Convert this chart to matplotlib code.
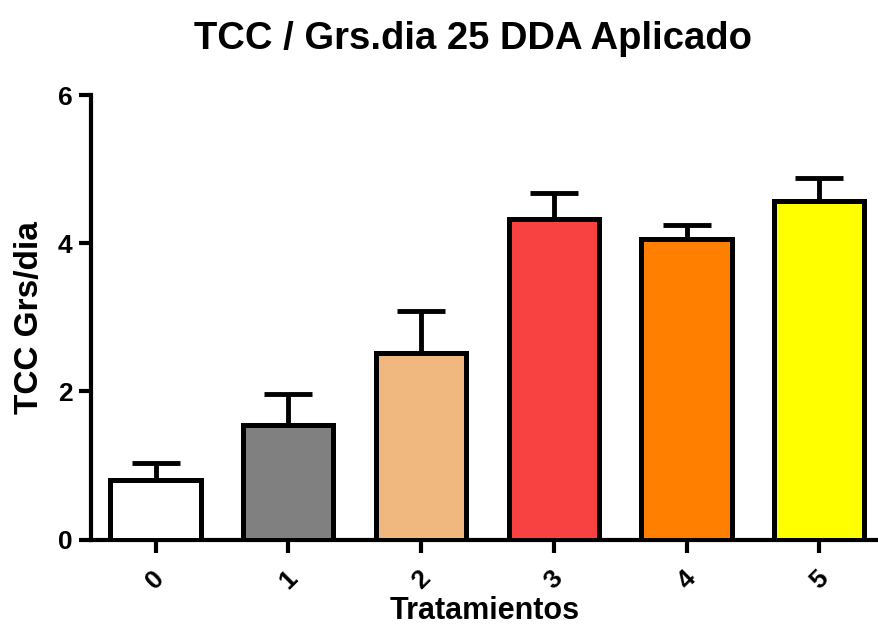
import matplotlib.pyplot as plt
import numpy as np

plt.rcParams["font.family"] = ["Liberation Sans", "DejaVu Sans"]
plt.rcParams["font.weight"] = "bold"

# treatment data
tratamientos = ["0", "1", "2", "3", "4", "5"]
tcc_media = [0.80, 1.55, 2.52, 4.33, 4.06, 4.57]
tcc_error = [0.24, 0.41, 0.57, 0.35, 0.19, 0.31]
colores = ["#FFFFFF", "#808080", "#F0B77E", "#F84141", "#FF8000", "#FFFF00"]

fig = plt.figure(figsize=(8.79, 6.31), dpi=100)
ax = fig.add_axes([0.103, 0.145, 0.897, 0.704])

x = np.arange(len(tratamientos))
ax.bar(x, tcc_media, width=0.68, color=colores, edgecolor="black",
       linewidth=3.6, zorder=3)
ax.errorbar(x, tcc_media, yerr=[np.zeros(len(x)), tcc_error], fmt="none",
            ecolor="black", elinewidth=3.5, capsize=17, capthick=3.5, zorder=2)

ax.set_xlim(-0.49, 5.45)
ax.set_ylim(0, 6)
ax.set_yticks([0, 2, 4, 6])
ax.set_xticks(x)
ax.set_xticklabels(tratamientos, rotation=45, ha="center", fontsize=19,
                   fontweight="bold")
for lbl in ax.get_yticklabels():
    lbl.set_fontsize(19)
    lbl.set_fontweight("bold")

for side in ["top", "right"]:
    ax.spines[side].set_visible(False)
for side in ["left", "bottom"]:
    ax.spines[side].set_linewidth(3)
ax.tick_params(axis="both", width=3, length=9)
ax.tick_params(axis="x", pad=10)
ax.tick_params(axis="y", pad=4)

ax.set_title("TCC / Grs.dia 25 DDA Aplicado", fontsize=27.5, fontweight="bold",
             pad=33, x=0.485)
ax.set_ylabel("TCC Grs/dia", fontsize=24, fontweight="bold", labelpad=9)
ax.set_xlabel("Tratamientos", fontsize=22, fontweight="bold", labelpad=2)

fig.savefig("out.png", dpi=100)
